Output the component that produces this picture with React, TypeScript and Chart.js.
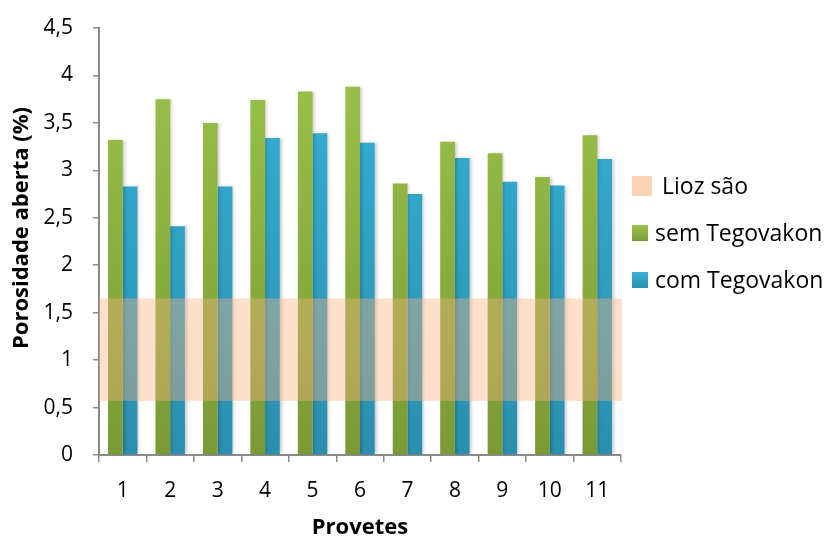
import React, { useEffect, useRef } from 'react';
import { Chart, registerables } from 'chart.js';

Chart.register(...registerables);

const categories = ['1', '2', '3', '4', '5', '6', '7', '8', '9', '10', '11'];
const semTegovakon = [3.32, 3.75, 3.5, 3.74, 3.83, 3.88, 2.86, 3.3, 3.18, 2.93, 3.37];
const comTegovakon = [2.83, 2.41, 2.83, 3.34, 3.39, 3.29, 2.75, 3.13, 2.88, 2.84, 3.12];
const liozSaoRange = [0.57, 1.65];
const seriesLabels = ['sem Tegovakon', 'com Tegovakon'];
const bandLabel = 'Lioz são';
const yMin = 0;
const yMax = 4.5;
const yStep = 0.5;
const xTitle = 'Provetes';
const yTitle = 'Porosidade aberta (%)';

const FONT = "'Open Sans', sans-serif";
const AXIS_COLOR = '#8a8a8a';
const BAND_FILL = 'rgba(247, 177, 127, 0.40)';
const BAND_SWATCH = '#fbd4b8';
const GREEN_TOP = '#9dc54b';
const GREEN_BOTTOM = '#7a9a36';
const BLUE_TOP = '#36b4d9';
const BLUE_BOTTOM = '#2a8fae';

function gradient(top: string, bottom: string) {
  return (ctx: any) => {
    const chart = ctx.chart;
    const area = chart.chartArea;
    if (!area) return top;
    const g = chart.ctx.createLinearGradient(0, area.top, 0, area.bottom);
    g.addColorStop(0, top);
    g.addColorStop(1, bottom);
    return g;
  };
}

const shadowPlugin = {
  id: 'barShadow',
  beforeDatasetsDraw(chart: any) {
    const ctx = chart.ctx;
    ctx.save();
    ctx.shadowColor = 'rgba(0,0,0,0.22)';
    ctx.shadowBlur = 3;
    ctx.shadowOffsetX = 2;
    ctx.shadowOffsetY = 0;
  },
  afterDatasetsDraw(chart: any) {
    chart.ctx.restore();
  },
};

const bandPlugin = {
  id: 'liozBand',
  afterDatasetsDraw(chart: any) {
    const { ctx, chartArea, scales } = chart;
    const yTop = scales.y.getPixelForValue(liozSaoRange[1]);
    const yBot = scales.y.getPixelForValue(liozSaoRange[0]);
    ctx.save();
    ctx.fillStyle = BAND_FILL;
    ctx.fillRect(chartArea.left, yTop, chartArea.right - chartArea.left + 1, yBot - yTop);
    ctx.restore();
  },
};

const yTitlePlugin = {
  id: 'yTitle',
  afterDraw(chart: any) {
    const ctx = chart.ctx;
    ctx.save();
    ctx.translate(22, 228);
    ctx.rotate(-Math.PI / 2);
    ctx.font = `bold 22px ${FONT}`;
    ctx.fillStyle = '#000';
    ctx.textAlign = 'center';
    ctx.textBaseline = 'middle';
    ctx.fillText(yTitle, 0, 0);
    ctx.restore();
  },
};

const legendPlugin = {
  id: 'sideLegend',
  afterDraw(chart: any) {
    const ctx = chart.ctx;
    const ds = chart.data.datasets;
    const items = [
      { text: bandLabel, color: BAND_SWATCH, box: 20, textX: 662, y: 186 },
      { text: ds[0].label, color: GREEN_TOP, color2: GREEN_BOTTOM, box: 16, textX: 655, y: 233 },
      { text: ds[1].label, color: BLUE_TOP, color2: BLUE_BOTTOM, box: 16, textX: 655, y: 280 },
    ];
    ctx.save();
    ctx.font = `23px ${FONT}`;
    ctx.textBaseline = 'middle';
    ctx.textAlign = 'left';
    for (const it of items) {
      const x = 632;
      const y0 = it.y - it.box / 2;
      if (it.color2) {
        const g = ctx.createLinearGradient(0, y0, 0, y0 + it.box);
        g.addColorStop(0, it.color);
        g.addColorStop(1, it.color2);
        ctx.fillStyle = g;
      } else {
        ctx.fillStyle = it.color;
      }
      ctx.fillRect(x, y0, it.box, it.box);
      ctx.fillStyle = '#000';
      ctx.fillText(it.text, it.textX, it.y + 1);
    }
    ctx.restore();
  },
};

export default function App() {
  const ref = useRef<HTMLCanvasElement | null>(null);

  useEffect(() => {
    if (!ref.current) return;
    const chart = new Chart(ref.current, {
      type: 'bar',
      data: {
        labels: categories,
        datasets: [
          {
            label: seriesLabels[0],
            data: semTegovakon,
            backgroundColor: gradient(GREEN_TOP, GREEN_BOTTOM),
            borderWidth: 0,
            categoryPercentage: 0.62,
            barPercentage: 1,
          },
          {
            label: seriesLabels[1],
            data: comTegovakon,
            backgroundColor: gradient(BLUE_TOP, BLUE_BOTTOM),
            borderWidth: 0,
            categoryPercentage: 0.62,
            barPercentage: 1,
          },
        ],
      },
      options: {
        animation: false,
        responsive: true,
        maintainAspectRatio: false,
        layout: { padding: { top: 28, right: 203, left: 0, bottom: 0 } },
        plugins: {
          legend: { display: false },
          tooltip: { enabled: false },
        },
        scales: {
          x: {
            grid: {
              display: true,
              drawOnChartArea: false,
              drawTicks: true,
              tickLength: 7,
              color: AXIS_COLOR,
              lineWidth: 1.5,
              offset: true,
            },
            border: { display: true, color: AXIS_COLOR, width: 2 },
            ticks: {
              color: '#000',
              font: { family: FONT, size: 21 },
              padding: 16,
            },
            title: {
              display: true,
              text: xTitle,
              color: '#000',
              font: { family: FONT, size: 22, weight: 'bold', lineHeight: 1 },
              padding: { top: 0, bottom: 0 },
            },
            afterFit: (s: any) => {
              s.height = 84;
            },
          },
          y: {
            min: yMin,
            max: yMax,
            grid: {
              display: true,
              drawOnChartArea: false,
              drawTicks: true,
              tickLength: 6,
              color: AXIS_COLOR,
              lineWidth: 1.5,
            },
            border: { display: true, color: AXIS_COLOR, width: 2 },
            ticks: {
              stepSize: yStep,
              color: '#000',
              font: { family: FONT, size: 21 },
              padding: 20,
              callback: (v: any) => String(v).replace('.', ','),
            },
            title: { display: false, text: yTitle },
            afterFit: (s: any) => {
              s.width = 99;
              s.paddingTop = 12;
              s.paddingBottom = 12;
            },
          },
        },
      },
      plugins: [shadowPlugin, bandPlugin, legendPlugin, yTitlePlugin],
    });
    return () => chart.destroy();
  }, []);

  return (
    <div style={{ position: 'absolute', left: 0, top: 0, width: 824, height: 539, background: '#fff' }}>
      <canvas ref={ref} />
    </div>
  );
}
